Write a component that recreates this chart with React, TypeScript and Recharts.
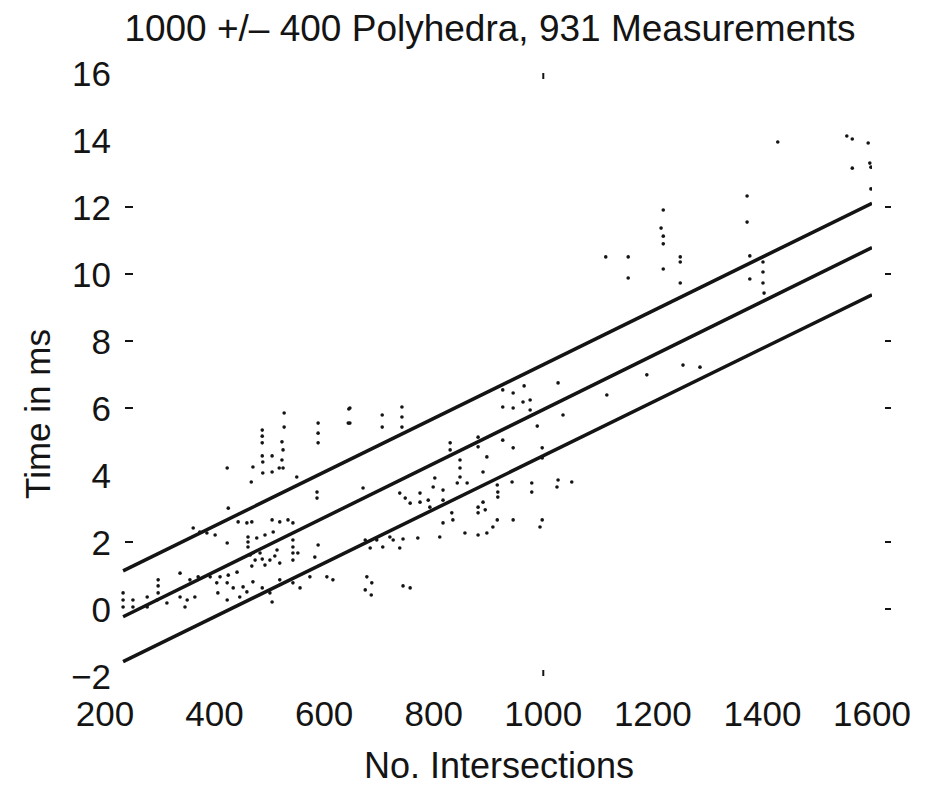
import { ScatterChart, Scatter, XAxis, YAxis } from 'recharts';

const INK = '#141414';
const FONT = '"Liberation Sans", Arial, Helvetica, sans-serif';

// plot box: x 105..872, y 73..676
const PLOT_W = 767;
const PLOT_H = 603;

const X_TICKS = [200, 400, 600, 800, 1000, 1200, 1400, 1600];
const Y_TICKS = [-2, 0, 2, 4, 6, 8, 10, 12, 14, 16];
// only the tick dashes that survive in the original print
const LEFT_TICK_MARKS = [2, 6, 8, 10, 12];
const RIGHT_TICK_MARKS = [0, 2, 6, 8, 10, 12];
const X_TICK_MARKS = [1000];

// fitted line and the two bounds around it
const upperBound = [{ x: 233, y: 1.14 }, { x: 1600, y: 12.11 }];
const fitLine = [{ x: 233, y: -0.23 }, { x: 1600, y: 10.79 }];
const lowerBound = [{ x: 233, y: -1.57 }, { x: 1600, y: 9.38 }];

const lowCluster: [number, number][] = [
  [233, 0.48], [233, 0.27], [233, 0.06], [251, 0.27], [251, 0.06], [277, 0.36], [277, 0.06],
  [295, 0.27], [297, 0.87], [297, 0.69], [297, 0.48], [313, 0.18], [337, 1.07], [337, 0.36],
  [346, 0.06], [350, 0.27], [355, 0.87], [364, 0.36], [370, 0.96], [392, 0.96], [404, 0.78],
  [406, 0.48], [410, 0.96], [423, 0.78], [423, 0.27], [425, 1.01], [434, 0.63], [441, 1.1],
  [446, 0.36], [452, 0.66], [459, 0.51], [470, 0.81], [487, 0.63], [501, 0.48], [505, 0.21],
  [519, 0.87], [543, 0.78], [556, 0.63], [574, 0.96], [605, 0.96], [616, 0.87], [675, 0.57],
  [678, 0.96], [686, 0.42], [687, 0.78], [744, 0.69], [757, 0.63],
];

const midCluster: [number, number][] = [
  [361, 2.42], [373, 2.3], [386, 2.27], [401, 2.21], [423, 1.97], [425, 3.01], [443, 2.6],
  [459, 2.57], [461, 2.15], [461, 2.0], [461, 1.85], [465, 1.61], [468, 2.6], [468, 1.28],
  [474, 1.46], [477, 2.12], [483, 1.67], [487, 1.49], [492, 2.21], [492, 1.31], [501, 1.46],
  [505, 2.66], [507, 2.3], [510, 1.58], [514, 1.76], [519, 2.6], [519, 1.37], [534, 2.66],
  [543, 2.57], [543, 2.06], [543, 1.85], [543, 1.67], [543, 1.46], [552, 1.67], [583, 1.55],
  [589, 1.91], [423, 4.21], [467, 3.79], [470, 4.24], [487, 4.57], [488, 4.39], [488, 4.06],
  [505, 4.57], [505, 4.09], [518, 4.21], [523, 4.99], [525, 4.75], [523, 4.45], [525, 4.21],
  [550, 3.94], [587, 3.49], [587, 3.31], [671, 3.61],
];

const highCluster: [number, number][] = [
  [487, 5.34], [487, 5.16], [487, 4.96], [527, 5.85], [527, 5.43], [589, 5.55], [589, 5.25],
  [589, 4.96], [644, 5.55], [645, 5.97], [647, 6.0], [647, 5.55], [706, 5.79], [706, 5.43],
  [742, 6.03], [742, 5.73], [742, 5.43],
];

const centerCluster: [number, number][] = [
  [675, 2.06], [684, 1.82], [696, 2.06], [707, 1.85], [720, 2.15], [726, 2.06], [738, 1.82],
  [744, 2.09], [771, 2.12], [738, 3.46], [748, 3.31], [757, 3.16], [775, 3.46], [775, 3.19],
  [790, 3.25], [793, 3.04], [799, 3.64], [802, 3.91], [811, 2.15], [817, 3.55], [817, 3.25],
  [817, 2.57], [830, 4.96], [830, 4.75], [833, 2.87], [835, 2.66], [843, 3.76], [848, 4.45],
  [848, 4.21], [848, 3.94], [857, 2.27], [861, 3.76], [881, 5.13], [881, 4.84], [881, 3.04],
  [881, 2.87], [881, 2.21], [890, 4.09], [890, 3.19], [894, 2.96], [897, 4.54], [897, 2.27],
  [908, 2.45], [916, 3.7], [916, 2.66], [917, 3.49], [917, 3.34], [926, 6.54], [926, 6.03],
  [926, 5.04], [943, 3.79], [945, 6.45], [945, 6.0], [945, 4.81], [945, 2.66], [963, 6.18],
  [965, 6.66], [976, 6.24], [976, 5.94], [979, 3.76], [979, 3.49], [989, 5.46], [994, 2.45],
  [998, 4.81], [998, 4.51], [998, 2.66], [1025, 3.64], [1027, 6.75], [1027, 3.85],
  [1036, 5.79], [1052, 3.79], [1116, 6.39], [1189, 6.99], [1255, 7.28], [1286, 7.22],
];

const topCluster: [number, number][] = [
  [1114, 10.51], [1155, 10.51], [1155, 9.88], [1215, 11.37], [1219, 11.91], [1219, 11.13],
  [1219, 10.9], [1219, 10.15], [1250, 10.51], [1250, 10.36], [1250, 9.73], [1372, 12.33],
  [1372, 11.55], [1377, 10.54], [1377, 9.85], [1401, 10.36], [1401, 10.06], [1401, 9.73],
  [1403, 9.43], [1428, 13.94], [1554, 14.12], [1564, 14.03], [1564, 13.16], [1593, 13.91],
  [1596, 13.31], [1598, 13.19], [1598, 12.54],
];

const measurements = [...lowCluster, ...midCluster, ...highCluster, ...centerCluster, ...topCluster]
  .map(([x, y]) => ({ x, y }));

const fmt = (v: number) => (v < 0 ? `\u2212${Math.abs(v)}` : `${v}`);

const XTick = ({ x, y, payload }: any) => (
  <g>
    {X_TICK_MARKS.includes(payload.value) && (
      <>
        <line x1={x} x2={x} y1={y - 6} y2={y} stroke={INK} strokeWidth={2} />
        <line x1={x} x2={x} y1={y - PLOT_H} y2={y - PLOT_H + 6} stroke={INK} strokeWidth={2} />
      </>
    )}
    <text x={x} y={y + 50} textAnchor="middle" fontSize={35} fontFamily={FONT} fill={INK}>
      {fmt(payload.value)}
    </text>
  </g>
);

const YTick = ({ x, y, payload }: any) => (
  <g>
    {LEFT_TICK_MARKS.includes(payload.value) && (
      <line x1={x + 20} x2={x + 28} y1={y} y2={y} stroke={INK} strokeWidth={2} />
    )}
    {RIGHT_TICK_MARKS.includes(payload.value) && (
      <line x1={x + PLOT_W + 13} x2={x + PLOT_W + 19} y1={y} y2={y} stroke={INK} strokeWidth={2} />
    )}
    <text x={x + 6} y={y + 13} textAnchor="end" fontSize={35} fontFamily={FONT} fill={INK}>
      {fmt(payload.value)}
    </text>
  </g>
);

const Dot = (p: any) => <circle cx={p.cx} cy={p.cy} r={1.8} fill={INK} />;
const NoDot = () => <g />;

export default function App() {
  return (
    <div style={{ position: 'relative', width: 925, height: 786, background: '#fff', fontFamily: FONT }}>
      <style>{'body{margin:0}'}</style>
      <ScatterChart width={925} height={786} margin={{ top: 73, right: 53, bottom: 0, left: 0 }}>
        <XAxis
          type="number"
          dataKey="x"
          domain={[200, 1600]}
          ticks={X_TICKS}
          interval={0}
          height={110}
          axisLine={false}
          tickLine={false}
          tickSize={0}
          tickMargin={0}
          tick={<XTick />}
          allowDataOverflow
        />
        <YAxis
          type="number"
          dataKey="y"
          domain={[-2, 16]}
          ticks={Y_TICKS}
          interval={0}
          width={105}
          axisLine={false}
          tickLine={false}
          tickSize={0}
          tickMargin={0}
          tick={<YTick />}
          allowDataOverflow
        />
        <Scatter data={measurements} shape={Dot} isAnimationActive={false} />
        <Scatter data={upperBound} line={{ stroke: INK, strokeWidth: 3.5 }} shape={NoDot} isAnimationActive={false} />
        <Scatter data={fitLine} line={{ stroke: INK, strokeWidth: 3.5 }} shape={NoDot} isAnimationActive={false} />
        <Scatter data={lowerBound} line={{ stroke: INK, strokeWidth: 3.5 }} shape={NoDot} isAnimationActive={false} />
      </ScatterChart>
      <svg width={925} height={786} style={{ position: 'absolute', left: 0, top: 0, pointerEvents: 'none' }}>
        <text x={490} y={41} textAnchor="middle" fontSize={37} fontFamily={FONT} fill={INK}>
          1000 +/– 400 Polyhedra, 931 Measurements
        </text>
        <text x={499} y={778} textAnchor="middle" fontSize={36} fontFamily={FONT} fill={INK}>
          No. Intersections
        </text>
        <text x={50} y={414} textAnchor="middle" fontSize={35} fontFamily={FONT} fill={INK} transform="rotate(-90 50 414)">
          Time in ms
        </text>
      </svg>
    </div>
  );
}
